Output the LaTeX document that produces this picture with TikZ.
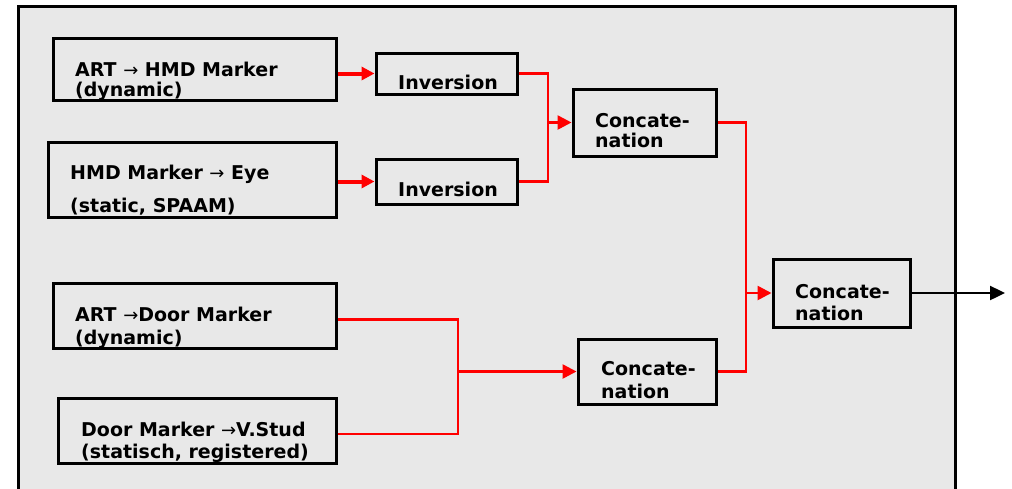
\documentclass[tikz,border=0pt]{standalone}
\usepackage{fontspec}
\setmainfont{DejaVu Sans}
\newfontfamily\arrowfont{DejaVu Sans}
\usetikzlibrary{arrows.meta}

\definecolor{panelgray}{HTML}{E8E8E8}
\definecolor{linkred}{HTML}{FF0000}

\tikzset{
  box/.style={draw=black, line width=3pt, inner sep=0pt},
  lbl/.style={anchor=base west, inner sep=0pt, font=\fontsize{19}{22}\selectfont\bfseries},
  redline/.style={draw=linkred, line width=2.6pt},
  redarrow/.style={redline, -{Triangle[length=14pt,width=14pt]}},
  thickarrow/.style={draw=linkred, line width=4pt, -{Triangle[length=13pt,width=13pt]}},
  outarrow/.style={draw=black, line width=2.4pt, -{Triangle[length=15pt,width=14pt]}}
}
\newcommand{\ra}{{\arrowfont\mdseries\fontsize{18}{18}\selectfont →}}

\begin{document}
\begin{tikzpicture}[x=1pt,y=-1pt]
\useasboundingbox (0,0) rectangle (1012,488);
\fill[panelgray] (18,6) rectangle (955,500);
\draw[line width=3pt] (18,500) -- (18,6) -- (955,6) -- (955,500);

% sources
\node[box, minimum width=283pt, minimum height=62pt] (artHmd)   at (194.5,69)  {};
\node[box, minimum width=288pt, minimum height=75pt] (hmdEye)   at (192,179.5) {};
\node[box, minimum width=283pt, minimum height=65pt] (artDoor)  at (194.5,315.5) {};
\node[box, minimum width=278pt, minimum height=65pt] (doorStud) at (197,430.5) {};

% operations
\node[box, minimum width=141pt, minimum height=41pt] (inv1) at (446.5,73.5)  {};
\node[box, minimum width=141pt, minimum height=45pt] (inv2) at (446.5,181.5) {};
\node[box, minimum width=143pt, minimum height=67pt] (cat1) at (644.5,122.5) {};
\node[box, minimum width=138pt, minimum height=65pt] (cat2) at (647,371.5)   {};
\node[box, minimum width=137pt, minimum height=68pt] (cat3) at (841.5,293)   {};

% labels
\node[lbl] (artHmdA)   at (75,76)  {ART \ra{} HMD Marker};
\node[lbl] (artHmdB)   at (75,96)  {(dynamic)};
\node[lbl] (hmdEyeA)   at (70,179) {HMD Marker \ra{} Eye};
\node[lbl] (hmdEyeB)   at (70,212) {(static, SPAAM)};
\node[lbl] (artDoorA)  at (75,321) {ART \ra{}Door Marker};
\node[lbl] (artDoorB)  at (75,344) {(dynamic)};
\node[lbl] (doorStudA) at (81,436) {Door Marker \ra{}V.Stud};
\node[lbl] (doorStudB) at (81,458) {(statisch, registered)};
\node[lbl] (inv1Txt)   at (398,89)  {Inversion};
\node[lbl] (inv2Txt)   at (398,196) {Inversion};
\node[lbl] (cat1A)     at (595,127) {Concate-};
\node[lbl] (cat1B)     at (595,147) {nation};
\node[lbl] (cat2A)     at (601,375) {Concate-};
\node[lbl] (cat2B)     at (601,398) {nation};
\node[lbl] (cat3A)     at (795,298) {Concate-};
\node[lbl] (cat3B)     at (795,320) {nation};

% junctions
\coordinate (j1) at (548,122.5);
\coordinate (j2) at (458,371.5);
\coordinate (j3) at (746,293);
\coordinate (out) at (1005,293);

\draw[thickarrow] (artHmd.east |- inv1.west) -- (inv1.west);
\draw[thickarrow] (hmdEye.east |- inv2.west) -- (inv2.west);
\draw[redline] (inv1.east) -| (j1);
\draw[redline] (inv2.east) -| (j1);
\draw[redarrow] (j1) -- (cat1.west);
\draw[redline] (artDoor.east) ++(0,4) -| (j2);
\draw[redline] (doorStud.east) ++(0,3.5) -| (j2);
\draw[redarrow] (j2) -- (cat2.west);
\draw[redline] (cat1.east) -| (j3);
\draw[redline] (cat2.east) -| (j3);
\draw[redarrow] (j3) -- (cat3.west);
\draw[outarrow] (cat3.east) -- (out);
\end{tikzpicture}
\end{document}
